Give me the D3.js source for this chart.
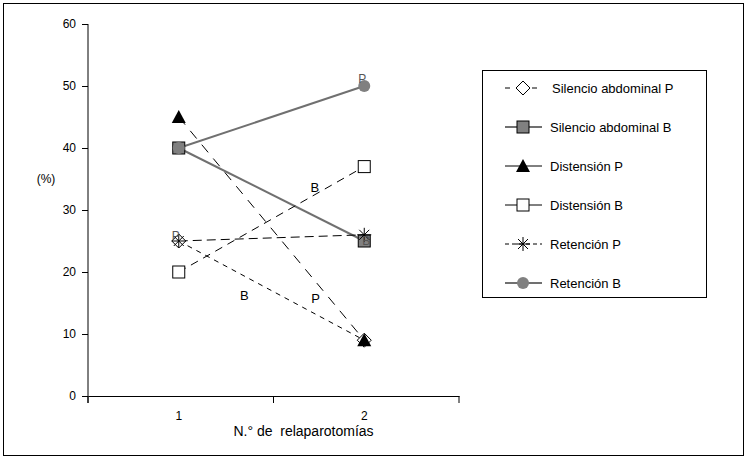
<!DOCTYPE html>
<html>
<head>
<meta charset="utf-8">
<script src="https://cdn.jsdelivr.net/npm/d3@7"></script>
<style>
  body { margin: 0; background: #fff; }
  text { font-family: "Liberation Sans", Arial, sans-serif; }
</style>
</head>
<body>
<div id="chart"></div>
<script>
// chart data
var categories = ["1", "2"];
var seriesNames = ["Silencio abdominal P", "Silencio abdominal B", "Distensión P",
                   "Distensión B", "Retención P", "Retención B"];
var silencioP = [25, 9];
var silencioB = [40, 25];
var distensionP = [45, 9];
var distensionB = [20, 37];
var retencionP = [25, 26];
var retencionB = [40, 50];
var yTicks = [0, 10, 20, 30, 40, 50, 60];

var svgWidth = 748;
var svgHeight = 461;

var margin = { top: 24, right: 289, bottom: 65, left: 88 };
var width = svgWidth - margin.left - margin.right;
var height = svgHeight - margin.top - margin.bottom;

var svg = d3.select("#chart")
    .append("svg")
    .attr("width", svgWidth)
    .attr("height", svgHeight);

// outer frame
svg.append("rect")
    .attr("x", 3.5).attr("y", 3.5)
    .attr("width", 740).attr("height", 452)
    .attr("fill", "none").attr("stroke", "#000");

var chartGroup = svg.append("g")
    .attr("transform", `translate(${margin.left}, ${margin.top})`);

var xScale = d3.scaleBand().domain(categories).range([0, width]);
var xPos = c => xScale(c) + xScale.bandwidth() / 2 - 2;
var yScale = d3.scaleLinear().domain([0, 60]).range([height, 0]);

// axes
var bottomAxis = d3.axisBottom(xScale).tickSize(0).tickFormat("");
var xAxis = chartGroup.append("g")
    .attr("transform", `translate(0, ${height})`)
    .call(bottomAxis);
xAxis.select(".domain").attr("stroke", "#000");
// boundary ticks
var bounds = [0].concat(categories.map(c => xScale(c) + xScale.bandwidth()));
xAxis.selectAll(".bnd").data(bounds).enter().append("line")
    .attr("x1", d => d).attr("x2", d => d)
    .attr("y1", 0).attr("y2", 7)
    .attr("stroke", "#000");
xAxis.selectAll(".lbl").data(categories).enter().append("text")
    .attr("x", d => xPos(d)).attr("y", 24)
    .attr("text-anchor", "middle")
    .attr("font-size", "12px").attr("fill", "#000")
    .text(d => d);

var leftAxis = d3.axisLeft(yScale).tickValues(yTicks).tickSize(6).tickPadding(6);
var yAxis = chartGroup.append("g").call(leftAxis);
yAxis.select(".domain").attr("d", `M0,0V${height + 7}`).attr("stroke", "#000");
yAxis.selectAll("text").attr("font-size", "12px")
    .style("font-family", "Liberation Sans, Arial, sans-serif");

// x-axis title, centred a little right of the plot centre as in the original
chartGroup.append("text")
    .attr("x", (xPos(categories[0]) + xPos(categories[1])) / 2 + 32).attr("y", height + 40)
    .attr("text-anchor", "middle")
    .attr("font-size", "14px")
    .style("white-space", "pre")
    .text("N.° de  relaparotomías");

chartGroup.append("text")
    .attr("x", -42).attr("y", yScale(35) + 4)
    .attr("text-anchor", "middle")
    .attr("font-size", "12px")
    .text("(%)");

// series styles
var series = [
  { name: seriesNames[0], values: silencioP, stroke: "#000", width: 1, dash: "5,5", legendDash: "5,22", marker: "diamond" },
  { name: seriesNames[1], values: silencioB, stroke: "#707070", width: 2, dash: null, legendDash: null, marker: "graysquare" },
  { name: seriesNames[2], values: distensionP, stroke: "#000", width: 1, dash: "10,8", legendDash: null, marker: "triangle" },
  { name: seriesNames[3], values: distensionB, stroke: "#000", width: 1, dash: "8,6", legendDash: null, marker: "square" },
  { name: seriesNames[4], values: retencionP, stroke: "#000", width: 1, dash: "9,5", legendDash: "4,3", marker: "star" },
  { name: seriesNames[5], values: retencionB, stroke: "#707070", width: 2, dash: null, legendDash: null, marker: "circle" }
];

function drawMarker(g, type) {
  if (type === "diamond") {
    g.append("path").attr("d", "M0,-7L7,0L0,7L-7,0Z")
      .attr("fill", "#fff").attr("stroke", "#000");
  } else if (type === "graysquare") {
    g.append("rect").attr("x", -6).attr("y", -6).attr("width", 12).attr("height", 12)
      .attr("fill", "#808080").attr("stroke", "#000");
  } else if (type === "triangle") {
    g.append("path").attr("d", "M0,-7L7,6L-7,6Z").attr("fill", "#000");
  } else if (type === "square") {
    g.append("rect").attr("x", -6).attr("y", -6).attr("width", 12).attr("height", 12)
      .attr("fill", "#fff").attr("stroke", "#000");
  } else if (type === "star") {
    g.append("path").attr("d", "M-7,0H7M0,-7V7M-5,-5L5,5M-5,5L5,-5")
      .attr("stroke", "#000").attr("fill", "none");
  } else if (type === "circle") {
    g.append("circle").attr("r", 6).attr("fill", "#808080");
  }
}

var line = d3.line()
    .x((d, i) => xPos(categories[i]))
    .y(d => yScale(d));

series.forEach(function(s) {
  chartGroup.append("path")
    .datum(s.values)
    .attr("d", line)
    .attr("fill", "none")
    .attr("stroke", s.stroke)
    .attr("stroke-width", s.width)
    .attr("stroke-dasharray", s.dash);
});

series.forEach(function(s) {
  s.values.forEach(function(v, i) {
    var g = chartGroup.append("g")
      .attr("transform", `translate(${xPos(categories[i])}, ${yScale(v)})`);
    drawMarker(g, s.marker);
  });
});

// point letter labels
var pointLabels = [
  { text: "P", cat: "1", value: 25, dx: -3, dy: -1 },
  { text: "B", cat: "2", value: 25, dx: 2, dy: 4 },
  { text: "P", cat: "2", value: 50, dx: -2, dy: -3 }
];
pointLabels.forEach(function(p) {
  chartGroup.append("text")
    .attr("x", xPos(p.cat) + p.dx).attr("y", yScale(p.value) + p.dy)
    .attr("text-anchor", "middle").attr("font-size", "12px")
    .attr("fill", "#555").text(p.text);
});

// letters placed along a line (t = fraction from category 1 to 2)
var midLabels = [
  { text: "B", values: distensionB, t: 0.733, dy: -8 },
  { text: "B", values: silencioP, t: 0.353, dy: 19 },
  { text: "P", values: distensionP, t: 0.738, dy: 16 }
];
midLabels.forEach(function(m) {
  var x0 = xPos(categories[0]), x1 = xPos(categories[1]);
  var mx = x0 + (x1 - x0) * m.t;
  var my = yScale(m.values[0] + (m.values[1] - m.values[0]) * m.t) + m.dy;
  chartGroup.append("text")
    .attr("x", mx).attr("y", my + 5)
    .attr("text-anchor", "middle").attr("font-size", "13px")
    .attr("fill", "#000")
    .text(m.text);
});

// legend
var legend = svg.append("g");
legend.append("rect")
    .attr("x", 482.5).attr("y", 70.5)
    .attr("width", 224).attr("height", 227)
    .attr("fill", "#fff").attr("stroke", "#000");

var legendY = d3.scalePoint().domain(seriesNames).range([88, 283]);
series.forEach(function(s) {
  var ly = legendY(s.name);
  legend.append("line")
    .attr("x1", 505).attr("x2", 542).attr("y1", ly).attr("y2", ly)
    .attr("stroke", s.stroke).attr("stroke-width", s.width)
    .attr("stroke-dasharray", s.legendDash);
  var g = legend.append("g").attr("transform", `translate(523, ${ly})`);
  drawMarker(g, s.marker);
  legend.append("text")
    .attr("x", s.marker === "diamond" ? 552 : 550).attr("y", ly + 5)
    .attr("font-size", "13px")
    .text(s.name);
});
</script>
</body>
</html>
